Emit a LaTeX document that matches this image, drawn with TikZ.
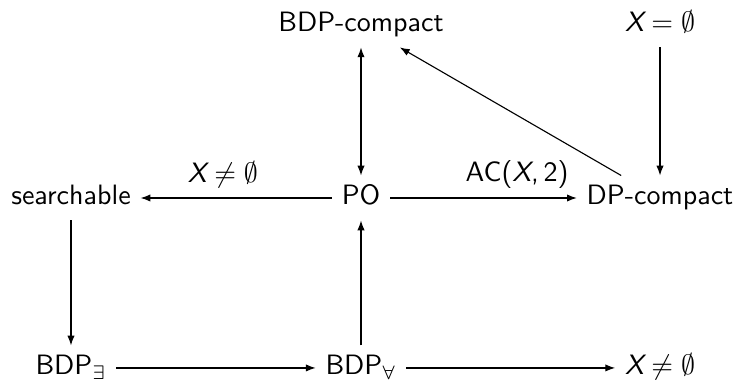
\documentclass[tikz,border=0pt]{standalone}
\usepackage{amsmath,amssymb}
\usetikzlibrary{arrows.meta}
\renewcommand{\familydefault}{\sfdefault}
\newcommand{\setX}{\textit{X}}

\begin{document}
\begin{tikzpicture}[obj/.style={anchor=base, text height=7pt, text depth=2pt}, >={Latex[length=3.5pt,width=2.6pt]}]
	\useasboundingbox (0,0) rectangle (9.288,4.832);
	\node[obj] (bdpc) at (4.531,4.431) {BDP-compact};
	\node[obj] (xempty) at (8.284,4.431) {$\setX=\emptyset$};
	\node[obj] (srch) at (0.891,2.259) {searchable};
	\node[obj] (po) at (4.531,2.259) {PO};
	\node[obj] (dpc) at (8.284,2.259) {DP-compact};
	\node[obj] (bdpe) at (0.891,0.126) {BDP$_\exists$};
	\node[obj] (bdpa) at (4.531,0.126) {BDP$_\forall$};
	\node[obj] (xnonempty) at (8.284,0.126) {$\setX\neq\emptyset$};
	\draw[<->] (bdpc) -- (po);
	\draw[->] (xempty) -- (dpc);
	\draw[->] (dpc) -- (bdpc);
	\draw[->] (po) -- (srch) node[pos=0.57, above] {$\setX\neq\emptyset$};
	\draw[->] (po) -- (dpc) node[pos=0.68, above] {AC(\setX,\,2)};
	\draw[->] (srch) -- (bdpe);
	\draw[->] (bdpe) -- (bdpa);
	\draw[->] (bdpa) -- (po);
	\draw[->] (bdpa) -- (xnonempty);
\end{tikzpicture}
\end{document}
